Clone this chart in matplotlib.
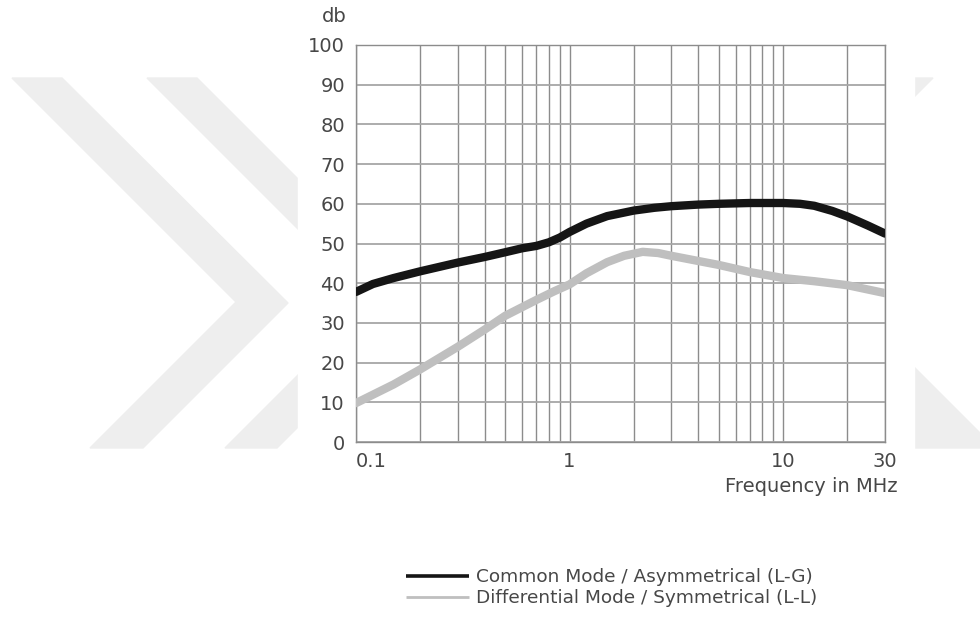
import matplotlib
matplotlib.use("Agg")
import matplotlib.pyplot as plt
from matplotlib.patches import Polygon, Rectangle
from matplotlib.ticker import FixedLocator, NullFormatter

# Common mode / asymmetrical (L-G) attenuation
cm_freq = [0.1, 0.12, 0.15, 0.2, 0.3, 0.4, 0.5, 0.6, 0.7, 0.8, 0.9, 1.0, 1.2,
           1.5, 2.0, 2.5, 3.0, 4.0, 5.0, 7.0, 10, 12, 14, 17, 20, 25, 30]
cm_db = [37.8, 39.8, 41.3, 43.0, 45.2, 46.6, 47.8, 48.8, 49.4, 50.3, 51.5, 52.9,
         55.0, 56.9, 58.3, 59.0, 59.4, 59.8, 60.0, 60.2, 60.2, 60.0, 59.5, 58.2,
         56.8, 54.5, 52.5]

# Differential mode / symmetrical (L-L)
dm_freq = [0.1, 0.15, 0.2, 0.3, 0.4, 0.5, 0.7, 0.85, 1.0, 1.2, 1.5, 1.8, 2.2,
           2.6, 3.0, 4.0, 5.0, 7.0, 10, 14, 20, 30]
dm_db = [9.8, 14.5, 18.3, 24.0, 28.3, 31.8, 35.8, 38.0, 39.7, 42.5, 45.3, 46.9,
         47.9, 47.6, 46.9, 45.6, 44.6, 42.8, 41.3, 40.5, 39.5, 37.5]

x_ticks = [0.1, 1, 10, 30]
x_labels = ["0.1", "1", "10", "30"]
x_minor = [0.2, 0.3, 0.4, 0.5, 0.6, 0.7, 0.8, 0.9,
           2, 3, 4, 5, 6, 7, 8, 9, 20]
y_ticks = list(range(0, 101, 10))

W, H = 980, 617
TXT = "#474747"
GRID = "#8c8c8c"

fig = plt.figure(figsize=(W / 100, H / 100), dpi=100)
fig.patch.set_facecolor("white")


def px(x, y):
    return (x / W, 1 - y / H)


# faint chevron watermark behind the chart
wm = "#eeeeee"
for pts in (
    [(12, 78), (62, 78), (288, 303), (143, 448), (90, 448), (236, 302)],
    [(147, 78), (197, 78), (422, 303), (277, 448), (225, 448), (371, 302)],
    [(914, 78), (933, 78), (914, 97)],
    [(914, 367), (980, 433), (980, 448), (914, 448)],
):
    fig.patches.append(Polygon([px(*p) for p in pts], closed=True,
                               transform=fig.transFigure, color=wm, zorder=0))
fig.patches.append(Rectangle(px(298, H), (914 - 298) / W, 1,
                             transform=fig.transFigure, color="white", zorder=1))

ax = fig.add_axes([356 / W, 1 - 442 / H, (885 - 356) / W, (442 - 45) / H])
ax.set_zorder(2)
ax.set_xscale("log")
ax.set_xlim(0.1, 30)
ax.set_ylim(0, 100)

ax.plot(cm_freq, cm_db, color="#151515", lw=6, solid_capstyle="round",
        solid_joinstyle="round", label="Common Mode / Asymmetrical (L-G)", zorder=4)
ax.plot(dm_freq, dm_db, color="#bfbfbf", lw=6, solid_capstyle="round",
        solid_joinstyle="round", label="Differential Mode / Symmetrical (L-L)", zorder=3)

ax.xaxis.set_major_locator(FixedLocator(x_ticks))
ax.set_xticklabels(x_labels)
ax.xaxis.set_minor_locator(FixedLocator(x_minor))
ax.xaxis.set_minor_formatter(NullFormatter())
ax.set_yticks(y_ticks)

ax.grid(True, which="both", axis="x", color=GRID, lw=1.0)
ax.grid(True, which="major", axis="y", color="#a6a6a6", lw=1.3)
ax.set_axisbelow(True)
for s in ax.spines.values():
    s.set_color(GRID)
    s.set_linewidth(1.0)

ax.tick_params(axis="both", which="both", length=0, labelsize=14, colors=TXT)
ax.tick_params(axis="y", pad=8)
ax.tick_params(axis="x", pad=7)
ax.get_xticklabels()[0].set_ha("left")

fig.text(347 / W, 1 - 17 / H, "db", ha="right", va="center", fontsize=14, color=TXT)
fig.text(898 / W, 1 - 487 / H, "Frequency in MHz", ha="right", va="center",
         fontsize=14, color=TXT)

leg = fig.legend(loc="upper left", bbox_to_anchor=px(406, 568), frameon=False,
                 fontsize=13.3, handlelength=3.4, handletextpad=0.4,
                 labelspacing=0.17, borderpad=0, borderaxespad=0)
for t in leg.get_texts():
    t.set_color(TXT)
leg.get_lines()[0].set_linewidth(2.6)
leg.get_lines()[1].set_linewidth(2.0)
for ln in leg.get_lines():
    ln.set_solid_capstyle("butt")

fig.savefig("out.png", dpi=100)
